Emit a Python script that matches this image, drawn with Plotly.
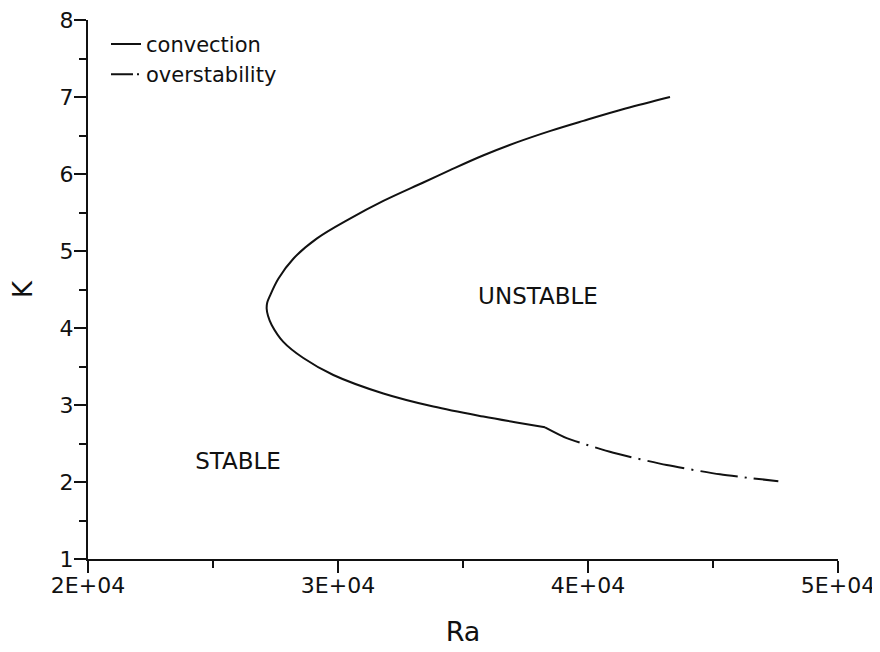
import plotly.graph_objects as go

# Convection branch (Ra, K)
conv_ra = [43280, 41500, 39813, 38500, 37147, 35800, 34480, 33413, 31813, 30480, 29147,
           28213, 27613, 27280, 27170, 27147, 27200, 27347, 27813, 28613, 29813, 31813,
           33813, 35813, 37200, 38280]
conv_k = [7.00, 6.85, 6.69, 6.56, 6.41, 6.24, 6.05, 5.89, 5.65, 5.42, 5.16,
          4.90, 4.64, 4.42, 4.33, 4.25, 4.16, 4.04, 3.82, 3.61, 3.39, 3.15,
          2.98, 2.85, 2.77, 2.71]

# Overstability branch
over_ra = [38280, 39147, 41013, 43147, 45280, 47613]
over_k = [2.71, 2.57, 2.38, 2.22, 2.10, 2.01]

labels = ["UNSTABLE", "STABLE"]
label_ra = [38000, 26000]
label_k = [4.39, 2.24]

FONT = "DejaVu Sans"
INK = "#111111"

fig = go.Figure()
fig.add_trace(go.Scatter(x=conv_ra, y=conv_k, mode="lines", name="convection",
                         line=dict(color=INK, width=2, shape="spline", smoothing=1.0)))
fig.add_trace(go.Scatter(x=over_ra, y=over_k, mode="lines", name="overstability",
                         showlegend=False,
                         line=dict(color=INK, width=2, dash="38px,7px,2px,7px",
                                   shape="spline", smoothing=0.6)))
# legend-only entry with a shorter pattern so the sample shows dash + dot
fig.add_trace(go.Scatter(x=[None], y=[None], mode="lines", name="overstability",
                         line=dict(color=INK, width=2, dash="22px,4px,2px,4px")))
fig.add_trace(go.Scatter(x=label_ra, y=label_k, mode="text", text=labels,
                         textfont=dict(family=FONT, size=23, color=INK),
                         showlegend=False, hoverinfo="skip"))

axis_common = dict(showline=True, linewidth=2, linecolor=INK, showgrid=False,
                   zeroline=False, ticks="outside", ticklen=12, tickwidth=2,
                   tickcolor=INK, tickfont=dict(family=FONT, size=22, color=INK),
                   mirror=False, automargin=False, ticklabeloverflow="allow")

fig.update_xaxes(range=[20000, 50000], tickvals=[20000, 30000, 40000, 50000],
                 ticktext=["2E+04", "3E+04", "4E+04", "5E+04"],
                 ticklabelstandoff=-6,
                 minor=dict(tickvals=[25000, 35000, 45000], ticks="outside",
                            ticklen=7, tickwidth=2, tickcolor=INK),
                 title=dict(text="Ra", font=dict(family=FONT, size=27, color=INK),
                            standoff=25),
                 **axis_common)
fig.update_yaxes(range=[1, 8], tickvals=[1, 2, 3, 4, 5, 6, 7, 8],
                 ticklabelstandoff=-4,
                 minor=dict(dtick=0.5, ticks="outside", ticklen=7, tickwidth=2,
                            tickcolor=INK),
                 title=dict(text="K", font=dict(family=FONT, size=26, color=INK),
                            standoff=25),
                 **axis_common)

# page body has an 8px margin, so the figure is offset by (8, 8)
fig.update_layout(width=872, height=644,
                  margin=dict(l=80, r=42, t=12, b=93),
                  plot_bgcolor="white", paper_bgcolor="white",
                  font=dict(family=FONT, color=INK),
                  legend=dict(x=0.024, y=0.993, xanchor="left", yanchor="top",
                              bgcolor="rgba(0,0,0,0)",
                              font=dict(family=FONT, size=21, color=INK)))

fig.write_html("out.html")
